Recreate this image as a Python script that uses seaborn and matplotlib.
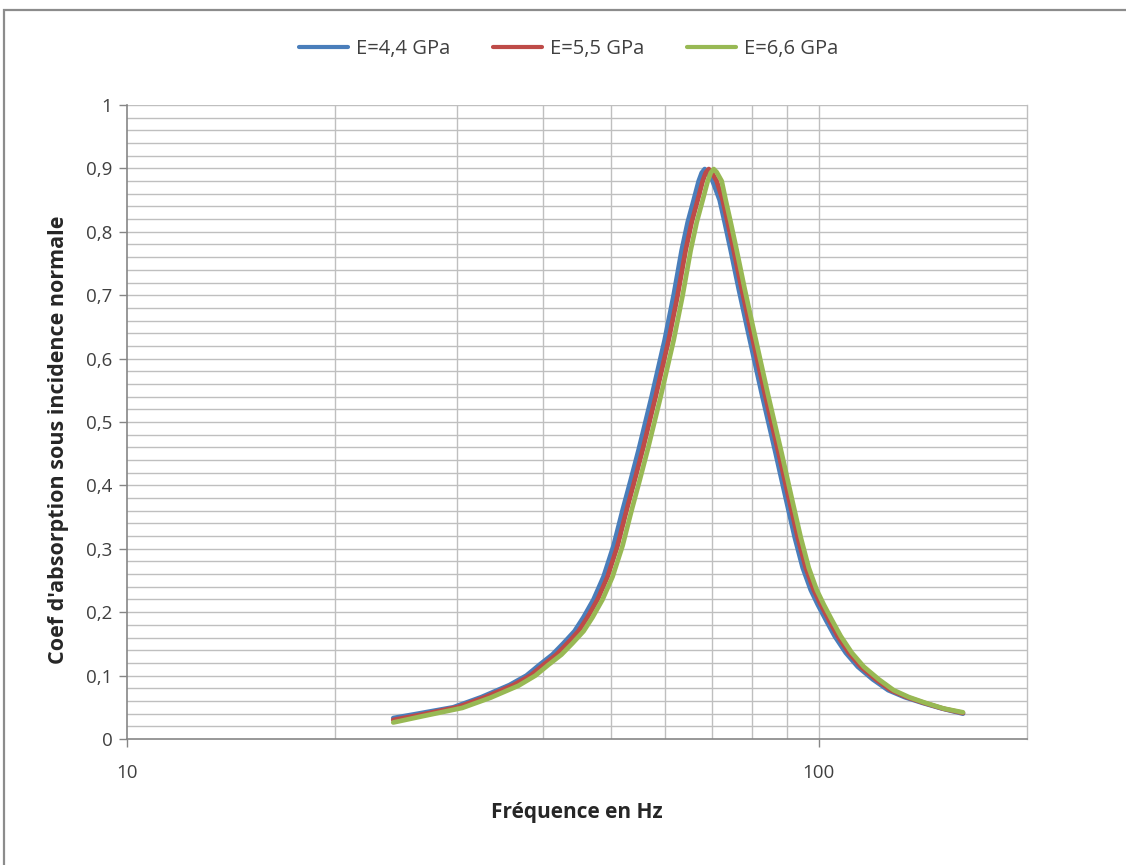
import matplotlib
matplotlib.use("Agg")
import matplotlib.pyplot as plt
import matplotlib.patches as mpatches
import pandas as pd
import seaborn as sns

# Absorption coefficient (normal incidence) versus frequency for three Young's moduli
series_names = ["E=4,4 GPa", "E=5,5 GPa", "E=6,6 GPa"]

freq_44 = [24.26, 26.37, 29.63, 32.53, 35.71, 37.79, 39.47, 41.20, 42.75, 44.35,
           45.70, 47.25, 48.85, 50.51, 52.05, 53.46, 54.90, 57.33, 59.86, 61.69,
           63.36, 64.64, 65.94, 67.05, 67.73, 68.41, 69.09, 70.24, 71.90, 73.11,
           74.59, 76.60, 78.92, 82.70, 86.65, 89.59, 92.31, 94.80, 97.37, 99.66,
           102.36, 105.47, 109.40, 113.87, 119.71, 126.0, 133.1, 141.2, 150.8, 161.6]
coef_44 = [0.033, 0.040, 0.050, 0.066, 0.085, 0.100, 0.117, 0.133, 0.151, 0.170,
           0.192, 0.220, 0.256, 0.305, 0.361, 0.408, 0.456, 0.540, 0.629, 0.700,
           0.771, 0.815, 0.850, 0.880, 0.893, 0.899, 0.894, 0.880, 0.850, 0.815,
           0.771, 0.710, 0.645, 0.545, 0.450, 0.380, 0.318, 0.270, 0.235, 0.212,
           0.188, 0.162, 0.136, 0.114, 0.094, 0.077, 0.066, 0.057, 0.048, 0.040]

freq_55 = [24.26, 26.55, 30.03, 32.97, 36.19, 38.30, 40.00, 41.76, 43.33, 44.95,
           46.32, 47.89, 49.51, 51.19, 52.75, 54.18, 55.64, 58.10, 60.67, 62.52,
           64.21, 65.51, 66.83, 67.95, 68.64, 69.33, 70.02, 71.19, 72.63, 73.85,
           75.34, 77.37, 79.72, 83.54, 87.53, 90.49, 93.24, 95.76, 98.35, 100.67,
           103.39, 106.54, 110.51, 115.02, 120.92, 127.12, 134.08, 141.9, 151.2, 161.6]
coef_55 = [0.030, 0.038, 0.050, 0.066, 0.085, 0.100, 0.117, 0.133, 0.151, 0.170,
           0.192, 0.220, 0.256, 0.305, 0.361, 0.408, 0.456, 0.540, 0.629, 0.700,
           0.771, 0.815, 0.850, 0.880, 0.893, 0.899, 0.894, 0.880, 0.850, 0.815,
           0.771, 0.710, 0.645, 0.545, 0.450, 0.380, 0.318, 0.270, 0.235, 0.212,
           0.188, 0.162, 0.136, 0.114, 0.094, 0.077, 0.066, 0.057, 0.048, 0.041]

freq_66 = [24.26, 26.77, 30.53, 33.52, 36.80, 38.94, 40.67, 42.46, 44.06, 45.71,
           47.10, 48.69, 50.34, 52.05, 53.64, 55.09, 56.57, 59.08, 61.69, 63.57,
           65.29, 66.61, 67.95, 69.09, 69.79, 70.49, 71.20, 72.39, 73.36, 74.59,
           76.09, 78.14, 80.52, 84.38, 88.41, 91.39, 94.17, 96.72, 99.33, 101.68,
           104.42, 107.61, 111.62, 116.17, 122.13, 128.3, 135.0, 142.6, 151.6, 161.6]
coef_66 = [0.026, 0.036, 0.049, 0.065, 0.084, 0.100, 0.117, 0.133, 0.151, 0.170,
           0.192, 0.220, 0.256, 0.305, 0.361, 0.408, 0.456, 0.540, 0.629, 0.700,
           0.771, 0.815, 0.850, 0.880, 0.893, 0.899, 0.894, 0.880, 0.850, 0.815,
           0.771, 0.710, 0.645, 0.545, 0.450, 0.380, 0.318, 0.270, 0.235, 0.212,
           0.188, 0.162, 0.136, 0.114, 0.094, 0.077, 0.066, 0.057, 0.048, 0.042]

y_ticks = [0.0, 0.1, 0.2, 0.3, 0.4, 0.5, 0.6, 0.7, 0.8, 0.9, 1.0]
y_tick_labels = ["0", "0,1", "0,2", "0,3", "0,4", "0,5", "0,6", "0,7", "0,8", "0,9", "1"]
x_ticks = [10, 100]
x_tick_labels = ["10", "100"]
x_minor = [20, 30, 40, 50, 60, 70, 80, 90]

colors = ["#4A7EBB", "#BE4B48", "#98B954"]

frames = []
for name, f, c in zip(series_names, [freq_44, freq_55, freq_66], [coef_44, coef_55, coef_66]):
    frames.append(pd.DataFrame({"freq": f, "coef": c, "serie": name}))
df = pd.concat(frames, ignore_index=True)

sns.set_theme(style="white")
plt.rcParams["font.family"] = ["Open Sans", "DejaVu Sans"]

fig = plt.figure(figsize=(11.26, 8.65), dpi=100)
ax = fig.add_axes([0.1128, 0.1457, 0.7993, 0.7329])

grid_col = "#BFBFBF"
ax.set_xscale("log")
ax.set_xlim(10, 200)
ax.set_ylim(0, 1)

# grid: horizontal every 0.02, vertical at each decade subdivision
for v in [i * 0.02 for i in range(1, 51)]:
    ax.axhline(v, color=grid_col, lw=1.0, zorder=0)
for v in x_minor + [100]:
    ax.axvline(v, color=grid_col, lw=1.0, zorder=0)

sns.lineplot(data=df, x="freq", y="coef", hue="serie", palette=colors,
             linewidth=3.4, sort=True, estimator=None, ax=ax, legend=False, zorder=3)
for ln in ax.get_lines():
    ln.set_solid_capstyle("round")
    ln.set_solid_joinstyle("round")

ax.set_yticks(y_ticks)
ax.set_yticklabels(y_tick_labels)
ax.set_xticks(x_ticks)
ax.set_xticklabels(x_tick_labels)
ax.set_xticks([], minor=True)
ax.tick_params(axis="both", which="major", direction="out", length=6, width=1,
               color="#868686", labelcolor="#404040", labelsize=13.5)
ax.tick_params(axis="y", pad=4.5)
ax.tick_params(axis="x", pad=12)
ax.tick_params(left=True, bottom=True)

for side in ["left", "bottom"]:
    ax.spines[side].set_color("#868686")
    ax.spines[side].set_linewidth(1.2)
ax.spines["right"].set_color(grid_col)
ax.spines["right"].set_linewidth(1.0)
ax.spines["top"].set_visible(False)

ax.set_xlabel("Fréquence en Hz", fontsize=15, fontweight="bold", color="#262626")
ax.set_ylabel("Coef d'absorption sous incidence normale", fontsize=15.5, fontweight="bold",
              color="#262626")
ax.xaxis.set_label_coords(0.5, -0.100)
ax.yaxis.set_label_coords(-0.064, 0.472)

handles = [plt.Line2D([], [], color=c, lw=3.0) for c in colors]
fig.legend(handles, series_names, loc="center", bbox_to_anchor=(0.505, 0.943), ncol=3,
           frameon=False, fontsize=14.5, handlelength=2.45, columnspacing=2.1,
           handletextpad=0.4, labelcolor="#404040")

# outer chart-area border
fig.patches.append(mpatches.Rectangle((4 / 1126, -0.5), 2.0, 1.5 - 9.5 / 865,
                                      transform=fig.transFigure, fill=False,
                                      edgecolor="#8C8C8C", lw=1.6, zorder=0))

fig.savefig("out.png", dpi=100, facecolor="white")
